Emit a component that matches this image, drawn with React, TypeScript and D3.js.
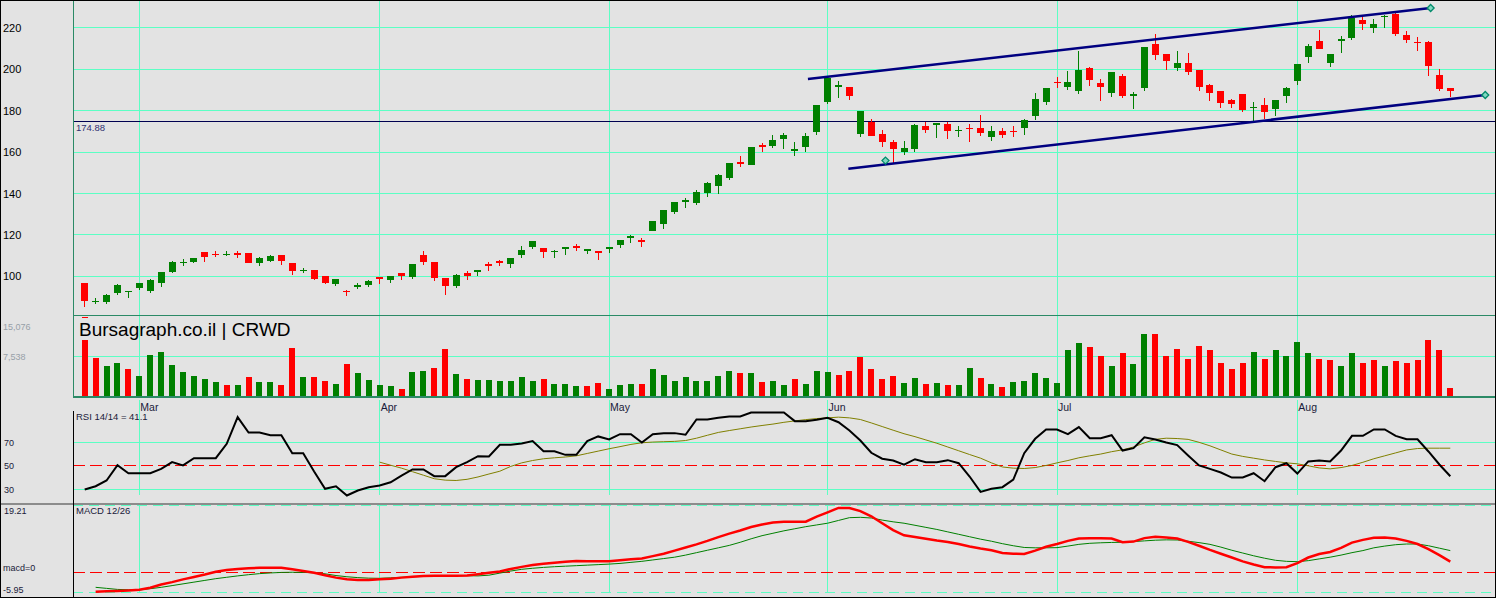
import * as d3 from "d3";

// candles, Feb .. Aug (one per trading day)
const opens = [96.7, 88, 87.5, 92.1, 92.6, 94.3, 92.7, 96.7, 102.1, 106.6, 106.9, 111.5, 110.9, 110.5, 111.1, 111.2, 106.3, 107.4, 110.2, 106.3,
  102.7, 102.9, 100, 96.1, 92.9, 95.3, 96, 99.7, 98.2, 101.5, 99.7, 110.2, 106.8, 99, 95.3, 101.5, 102.1, 105.8, 107.4, 106,
  110.3, 114.2, 113.6, 112, 113.6, 114.6, 112.8, 112.1, 113.6, 114.9, 119, 117.5, 122, 125.4, 131.2, 136.3, 135.6, 140.4, 143.8, 147.6,
  155.1, 153.8, 163.2, 163, 166.3, 161, 162.5, 169.9, 184.3, 191.9, 191.4, 168.9, 174.7, 168.7, 164.9, 160.2, 161.6, 172.6, 173.5, 173.6,
  170.5, 171.7, 171.6, 167.4, 170.2, 170.4, 171.8, 177.6, 184.3, 193.9, 191.6, 189.5, 200.6, 193.4, 188.7, 196.8, 187.5, 191, 212.2, 207.4,
  200.6, 203, 199.7, 192.4, 189.5, 185.2, 188.1, 181.4, 182.8, 181, 187.2, 194.5, 206.1, 213.7, 203.2, 214, 215.3, 223.8, 219.9, 225.5,
  226.7, 216.6, 213.4, 213.2, 197.2, 191];
const highs = [97, 89.5, 91.3, 96.1, 93, 96.8, 98.7, 102.1, 107.3, 108.3, 109, 111.7, 112.3, 112, 112.3, 111.2, 109.4, 110.3, 110.2, 106.3,
  104, 103, 100, 98.6, 93.5, 96.9, 98, 99.8, 100, 101.6, 106, 112.3, 106.8, 99, 101, 102.6, 103, 106.8, 108.1, 108.8,
  114.6, 117.2, 113.8, 112.6, 114, 115.5, 113.2, 112.1, 114, 117.4, 119.9, 118.3, 126.8, 132, 136, 137.8, 141.7, 145.6, 149.4, 154.8,
  158, 162.6, 164.4, 168.3, 169.2, 164.9, 169.2, 182.9, 196.2, 194.3, 191.5, 180, 175.8, 170.7, 165.8, 165.4, 173.5, 174.7, 173.9, 174.5,
  172.5, 173.4, 177.9, 172.5, 171.6, 172.5, 176.1, 188.6, 191.2, 196.3, 199.2, 208.8, 201.1, 195.3, 198.8, 197.7, 189, 211, 217.1, 207.5,
  208.8, 207.9, 199.8, 192.9, 189.6, 185.7, 188.2, 184.2, 186.1, 185.3, 191.5, 202.8, 212.2, 219, 207.5, 216.1, 226.2, 225.3, 224.3, 226,
  227, 218.5, 215.6, 213.7, 200.1, 191];
const lows = [85.4, 86.4, 86.7, 91.1, 89.7, 93.5, 91.9, 94.8, 101.8, 105, 106.5, 106.9, 109.1, 109.6, 108.6, 106.5, 105.2, 107, 105.5, 100.6,
  101.8, 98.1, 96.1, 95.3, 90.4, 94, 94.8, 96.3, 96.7, 98.2, 98.7, 105.5, 97.7, 90.8, 94.3, 98.2, 100.2, 102.6, 105, 104,
  108.9, 113.3, 108.9, 108.9, 110.3, 112.3, 110.8, 107.9, 111.2, 113.7, 116.2, 114.2, 121.8, 123, 130.2, 133.1, 134.6, 138.5, 139.9, 146.7,
  153, 153.7, 160.2, 162, 161.5, 158.1, 160, 168.4, 183.4, 186.3, 185.3, 167.4, 167.8, 162.6, 154.6, 158.7, 160.2, 169.4, 167, 166.5,
  167.4, 165, 167.8, 165.5, 167, 167.4, 168.4, 175.7, 182.9, 191.1, 190, 188.1, 191.9, 184.7, 186.8, 186.1, 180.8, 189.4, 204.5, 199.7,
  199.2, 197.2, 189.5, 184.7, 181.3, 181.5, 179.5, 174.7, 176.1, 177.4, 183.9, 192.6, 203.2, 210, 201.3, 208, 214.3, 219, 217.5, 219.9,
  216.1, 212.7, 208.8, 196.9, 189.5, 186.6];
const closes = [88, 88.3, 90.8, 95.6, 93, 96.6, 98.2, 101.9, 106.9, 107, 108.7, 109.4, 110.5, 110.8, 110.8, 106.5, 108.7, 109.6, 107.4, 102.6,
  103.1, 98.7, 96.7, 98.5, 92.6, 95.6, 97.7, 98.9, 100, 100.2, 105.8, 106.9, 99.2, 95.3, 100.8, 100.2, 102.9, 105, 106.5, 108.7,
  112.6, 117, 111.8, 112.4, 114, 114.2, 113.1, 111.8, 114, 117.3, 119.4, 117.1, 126.6, 131.9, 135.9, 136.7, 140.7, 145.1, 148.9, 154.7,
  154.7, 162.5, 162.8, 165.8, 168.3, 161.4, 167.8, 182.8, 195.7, 192.3, 187.2, 179.9, 167.9, 165, 161.6, 162, 173.1, 170.8, 173.9, 170.3,
  170.9, 171.3, 169.4, 170.2, 168.4, 170, 175.5, 185.7, 191, 193.5, 193.9, 199.7, 194.8, 191.6, 198.7, 187.2, 187.9, 210.8, 206.9, 204,
  203, 198.7, 191.6, 188.7, 183.7, 183.4, 180.5, 181.8, 179.5, 185.2, 191, 202.6, 211.3, 210, 207.4, 214.4, 224.8, 221.9, 221.9, 225.9,
  217.1, 214.2, 213, 201.7, 190.5, 189.7];

// volume in thousands, colour of each bar (g / r)
const volumes = [10.46, 7.2, 5.7, 6.25, 5.1, 3.77, 7.8, 8.36, 5.87, 4.53, 3.77, 3.2, 2.8, 2.24, 2.24, 3.58, 2.8, 2.8, 2.24, 9.1,
  3.58, 3.58, 3.0, 2.43, 6.06, 4.34, 3.04, 2.1, 1.9, 1.5, 4.56, 4.75, 5.3, 8.9, 4.2, 3.2, 3.04, 3.04, 2.85, 2.85,
  3.6, 2.85, 3.2, 2.3, 2.3, 1.9, 1.9, 2.5, 1.5, 2.1, 2.3, 2.3, 5.1, 4.05, 2.93, 3.68, 2.93, 2.93, 3.86, 4.8,
  4.42, 4.42, 2.74, 2.93, 2.18, 3.3, 2.37, 4.8, 4.6, 4.05, 4.8, 7.4, 5.17, 3.3, 3.86, 2.56, 3.49, 2.37, 2.56, 2.18,
  2.18, 5.36, 3.49, 2.37, 1.81, 2.74, 2.93, 4.42, 3.49, 2.56, 8.7, 10.0, 9.27, 7.6, 5.73, 8.15, 6.1, 11.7, 11.7, 7.6,
  8.9, 7.03, 9.46, 8.7, 6.29, 5.17, 6.29, 8.34, 7.03, 8.71, 7.59, 10.2, 8.15, 7.03, 6.85, 5.73, 8.15, 6.29, 6.85, 5.73,
  6.66, 6.29, 6.85, 10.58, 8.71, 1.62];
const volColors = ("rrggrggggg" + "gggrgrggrr" + "grrgrggggr" + "ggrrgrgggg" + "ggrgggrrgg" + "grgggggggg" +
  "rgrggrgggr" + "rrrrrggrgr" + "ggrgrggggg" + "ggrrgrggrr" + "rrrrrrrgrg" + "gggrrggrrg" + "rrrrrr").split("");
const volMax = 15.076;
const volTicks = [15.076, 7.538];
const volTickLabels = ["15,076", "7,538"];

// RSI 14 and its 14-day average
const rsi = [29.8, 32.6, 37.5, 50.5, 43.7, 43.7, 43.7, 47.4, 53.1, 50.3, 56.5, 56.5, 56.5, 68.7, 91.4, 78.3, 78.3, 76, 76, 60.7,
  60.7, 45.1, 30.4, 32.6, 24.7, 29, 31.8, 33.2, 36, 41.7, 46.9, 46.9, 41.2, 41.2, 48.8, 53.1, 58.2, 58, 67.9, 67.9,
  69, 71, 62.4, 62.4, 59.3, 59.3, 71, 75, 72.4, 76.9, 76.9, 69.8, 76.9, 77.8, 77.8, 76.4, 89.4, 89.4, 90.8, 92,
  92, 95.4, 95.4, 95.4, 95.4, 88, 88, 89.1, 90.8, 87.1, 80, 71.5, 61.1, 56, 54.5, 50.9, 55.6, 53.1, 53.1, 54.8,
  52.2, 40.9, 27.8, 30.4, 31.8, 38.3, 60.7, 73, 80.9, 80.9, 76.9, 82.9, 73.5, 73.5, 76, 63, 65, 74.3, 72.4, 69.8,
  67.6, 58.8, 50.3, 47.4, 44.3, 40, 40, 43.7, 36.9, 48.8, 52.2, 43.4, 53.7, 54.5, 53.7, 63, 75.5, 75.5, 80.9, 80.9,
  75.5, 72.6, 72.6, 62.2, 51.1, 41.1];
const rsiAvg = [null, null, null, null, null, null, null, null, null, null, null, null, null, null, null, null, null, null, null, null,
  null, null, null, null, null, null, null, 53.1, 50.5, 48, 45, 42, 39, 37.8, 37.5, 38.5, 40.5, 43, 45.4, 49.5,
  52.5, 54.5, 56, 56.8, 57.5, 58.5, 60.5, 62.5, 64.5, 66.3, 68.2, 69.6, 70.2, 70.5, 70.8, 71.5, 73.5, 76, 78.4, 80,
  81.5, 83, 84.3, 85.5, 87, 88.2, 89.3, 90.2, 90.8, 91.4, 90.8, 89.4, 86.5, 83.4, 80.3, 77.3, 74.8, 72, 69.2, 66,
  62.8, 59.6, 56.5, 52.5, 49, 48, 47.7, 48.5, 50.3, 52.5, 54.5, 56.8, 58.5, 60, 62, 63.6, 66, 69.5, 72.5, 73.5,
  73.2, 72.5, 70, 67, 63.5, 60, 58, 56.5, 55, 53.7, 52.5, 51.7, 50, 48.2, 47.4, 48.5, 50.3, 53, 56, 58.5,
  61, 63.5, 64.7, 65, 65, 65];

// MACD 12/26 and signal
const macd = [null, -5.65, -5.55, -5.45, -5.3, -5.1, -4.5, -3.6, -2.9, -2.1, -1.4, -0.7, 0.1, 0.6, 0.9, 1.1, 1.25, 1.27, 1.25, 0.8,
  0.3, -0.2, -0.9, -1.6, -2.1, -2.25, -2.25, -2.1, -1.9, -1.6, -1.35, -1.15, -1.05, -1.05, -1.05, -1.0, -0.6, -0.2, 0.15, 0.9,
  1.5, 2.05, 2.4, 2.7, 3.0, 3.2, 3.15, 3.1, 3.1, 3.4, 3.7, 3.9, 4.6, 5.3, 6.2, 7.1, 8.0, 9.0, 10.1, 11.1,
  12.0, 13.0, 13.7, 14.3, 14.5, 14.5, 14.55, 16.0, 17.25, 18.5, 18.5, 17.6, 16.1, 14.1, 12.1, 10.6, 10.1, 9.6, 9.1, 8.7,
  8.1, 7.4, 6.8, 6.3, 5.5, 5.3, 5.2, 6.2, 7.3, 8.1, 9.0, 9.7, 9.75, 9.75, 9.7, 8.6, 8.8, 9.8, 10.2, 10.0,
  9.7, 8.7, 7.6, 6.4, 5.3, 4.2, 3.1, 2.2, 1.4, 1.35, 1.4, 2.6, 4.2, 5.2, 5.8, 7.0, 8.5, 9.3, 9.9, 10.0,
  9.7, 9.0, 8.1, 6.6, 4.9, 3.0];
const macdSignal = [null, -4.4, -4.7, -5.0, -5.1, -5.15, -4.8, -4.4, -3.9, -3.4, -2.9, -2.4, -1.9, -1.5, -1.1, -0.75, -0.45, -0.25, -0.1, -0.05,
  -0.1, -0.2, -0.5, -1.0, -1.35, -1.6, -1.75, -1.8, -1.65, -1.5, -1.35, -1.25, -1.15, -1.1, -1.05, -1.05, -1.1, -0.9, -0.3, 0.3,
  0.8, 1.1, 1.35, 1.55, 1.7, 1.85, 2.0, 2.15, 2.3, 2.5, 2.8, 3.1, 3.5, 3.9, 4.3, 4.9, 5.6, 6.3, 7.0, 7.7,
  8.6, 9.6, 10.5, 11.2, 11.9, 12.5, 13.1, 13.6, 14.1, 14.9, 15.7, 15.8, 15.6, 15.0, 14.5, 14.1, 13.5, 12.9, 12.3, 11.6,
  10.9, 10.2, 9.5, 8.9, 8.2, 7.6, 7.1, 7.0, 7.0, 7.05, 7.5, 8.0, 8.3, 8.45, 8.55, 8.6, 8.8, 9.0, 9.2, 9.3,
  9.26, 8.9, 8.5, 8.0, 7.2, 6.3, 5.5, 4.7, 4.0, 3.4, 3.1, 3.0, 3.3, 3.8, 4.3, 4.9, 5.6, 6.2, 7.0, 7.5,
  7.9, 8.1, 8.1, 7.6, 6.9, 6.2];

// months: label and the candle index where each starts
const months = ["Mar", "Apr", "May", "Jun", "Jul", "Aug"];
const monthIdx = [5, 27, 48, 68, 89, 111];

const priceTicks = [100, 120, 140, 160, 180, 200, 220];
const rsiTicks = [30, 50, 70];
const lastLine = 174.88;

// trend channel, [candle index, price]
const upperChannel = [[66.2, 195.3], [123.2, 229.6]];
const lowerChannel = [[69.9, 152], [128.2, 187.6]];
const channelMarks = [[123.2, 229.6], [73.3, 155.9], [128.2, 187.6]];

const W = 1496;
const H = 598;
const plotL = 73;
const plotR = 1495;

const GRID = "#5cffc4";
const FRAME = "#2b8a66";
const UP = "#008000";
const DOWN = "#ff0000";
const FONT = "'Liberation Sans', Arial, sans-serif";

// snap a coordinate to the middle of a pixel so 1px lines stay crisp
const px = (v: number) => Math.round(v - 0.5) + 0.5;

export default function App() {
  const n = closes.length;
  const x = d3.scaleLinear([0, n - 1], [84.7, 1450.3]);
  const y = d3.scaleLinear([100, 200], [276.3, 69.3]);
  const yVol = d3.scaleLinear([0, volMax], [396.7, 315.3]);
  const yRsi = d3.scaleLinear([30, 70], [489.3, 442.3]);
  const yMacd = d3.scaleLinear([-5.95, 19.21], [592.7, 505.5]);

  const bodyW = 7;
  const volW = 6;

  const rsiLine = d3.line<number | null>()
    .defined(d => d != null)
    .x((_, i) => x(i))
    .y(d => yRsi(d as number));
  const macdLine = d3.line<number | null>()
    .defined(d => d != null)
    .x((_, i) => x(i))
    .y(d => yMacd(d as number));
  const chan = d3.line<number[]>()
    .x(d => x(d[0]))
    .y(d => y(d[1]));

  return (
    <svg width={W} height={H} style={{ position: "absolute", left: 0, top: 0, fontFamily: FONT }}>
      <defs>
        <clipPath id="priceClip"><rect x={plotL} y={0} width={plotR - plotL} height={315} /></clipPath>
        <clipPath id="rsiClip"><rect x={plotL} y={410} width={plotR - plotL} height={92} /></clipPath>
        <clipPath id="macdClip"><rect x={plotL} y={505} width={plotR - plotL} height={92} /></clipPath>
      </defs>
      <rect width={W} height={H} fill="#e3e3e3" />

      {/* price grid */}
      <g shapeRendering="crispEdges">
        {priceTicks.map(t => (
          <line key={t} x1={plotL} x2={plotR} y1={px(y(t))} y2={px(y(t))} stroke={GRID} strokeWidth={1} />
        ))}
        <line x1={plotL} x2={plotR} y1={px(yVol(7.538))} y2={px(yVol(7.538))} stroke={GRID} />
        {monthIdx.map((m, i) => (
          <g key={months[i]}>
            <line x1={px(x(m))} x2={px(x(m))} y1={0} y2={397} stroke={GRID} />
            <line x1={px(x(m))} x2={px(x(m))} y1={400} y2={495} stroke={GRID} />
            <line x1={px(x(m))} x2={px(x(m))} y1={506} y2={593} stroke={GRID} />
          </g>
        ))}
      </g>
      {priceTicks.map(t => (
        <text key={t} x={3} y={y(t) + 4} fontSize={11} fill="#000">{t}</text>
      ))}
      {monthIdx.map((m, i) => (
        <text key={months[i]} x={x(m) + 1} y={410.5} fontSize={10.5} fill="#1a1a3a">{months[i]}</text>
      ))}

      {/* last close reference */}
      <line x1={plotL} x2={plotR} y1={px(y(lastLine))} y2={px(y(lastLine))} stroke="#000050" shapeRendering="crispEdges" />
      <text x={76} y={y(lastLine) + 10} fontSize={9.5} fill="#303070">{lastLine.toFixed(2)}</text>

      {/* candles */}
      <g clipPath="url(#priceClip)">
        <g shapeRendering="crispEdges">
          {closes.map((c, i) => {
            const o = opens[i];
            const col = c >= o ? UP : DOWN;
            const top = y(Math.max(o, c));
            const h = Math.max(1.5, Math.abs(y(o) - y(c)));
            return (
              <g key={i}>
                <line x1={px(x(i))} x2={px(x(i))} y1={y(highs[i])} y2={y(lows[i])} stroke={col} strokeWidth={1} />
                <rect x={Math.round(x(i) - bodyW / 2)} y={top} width={bodyW} height={h} fill={col} />
              </g>
            );
          })}
        </g>
        <path d={chan(upperChannel) || ""} fill="none" stroke="#000080" strokeWidth={2.5} />
        <path d={chan(lowerChannel) || ""} fill="none" stroke="#000080" strokeWidth={2.5} />
        {channelMarks.map((p, i) => (
          <path key={i} d={`M${x(p[0])},${y(p[1]) - 3.5}l3.5,3.5l-3.5,3.5l-3.5,-3.5z`}
            fill="#7fd8c0" stroke="#008a6a" strokeWidth={1.3} />
        ))}
      </g>

      {/* volume */}
      <g shapeRendering="crispEdges">
        {volumes.map((v, i) => (
          <rect key={i} x={Math.round(x(i) - volW / 2)} y={yVol(v)} width={volW} height={yVol(0) - yVol(v)}
            fill={volColors[i] === "g" ? UP : DOWN} />
        ))}
        <rect x={Math.round(x(0) - volW / 2)} y={yVol(volMax) + 1.5} width={volW} height={1.6} fill={DOWN} />
      </g>
      {volTicks.map((t, i) => (
        <text key={t} x={3} y={yVol(t) + (i === 0 ? 15 : 4)} fontSize={9} fill="#97a0a8">{volTickLabels[i]}</text>
      ))}
      <text x={79} y={336} fontSize={19} fill="#000">Bursagraph.co.il | CRWD</text>

      {/* panel frames */}
      <g shapeRendering="crispEdges">
        <line x1={plotL} x2={plotR} y1={315.5} y2={315.5} stroke={FRAME} />
        <line x1={plotL} x2={plotR} y1={397} y2={397} stroke={FRAME} strokeWidth={2} />
        <line x1={plotL + 0.5} x2={plotL + 0.5} y1={0} y2={397} stroke={FRAME} />
      </g>

      {/* RSI */}
      {rsiTicks.map(t => (
        <g key={t}>
          <line x1={plotL} x2={plotR} y1={px(yRsi(t))} y2={px(yRsi(t))} shapeRendering="crispEdges"
            stroke={t === 50 ? DOWN : GRID} strokeDasharray={t === 50 ? "12,5" : undefined} />
          <text x={4} y={yRsi(t) + 3.5} fontSize={9} fill="#1a1a3a">{t}</text>
        </g>
      ))}
      <g clipPath="url(#rsiClip)">
        <path d={rsiLine(rsiAvg) || ""} fill="none" stroke="#808000" strokeWidth={1} />
        <path d={rsiLine(rsi) || ""} fill="none" stroke="#000" strokeWidth={2} />
      </g>
      <text x={76} y={420} fontSize={9.5} fill="#1a1a3a">RSI 14/14 = {rsi[n - 1]}</text>

      {/* MACD */}
      <g shapeRendering="crispEdges">
        <line x1={0} x2={W} y1={503.5} y2={503.5} stroke="#8c8c8c" strokeWidth={2} />
        <line x1={plotL} x2={plotR} y1={px(yMacd(19.21))} y2={px(yMacd(19.21))} stroke={GRID} strokeDasharray="10,6" />
        <line x1={plotL} x2={plotR} y1={px(yMacd(-5.95))} y2={px(yMacd(-5.95))} stroke={GRID} strokeDasharray="10,6" />
        <line x1={plotL} x2={plotR} y1={px(yMacd(0))} y2={px(yMacd(0))} stroke={DOWN} strokeDasharray="12,5" />
      </g>
      <g clipPath="url(#macdClip)">
        <path d={macdLine(macdSignal) || ""} fill="none" stroke={UP} strokeWidth={1} />
        <path d={macdLine(macd) || ""} fill="none" stroke={DOWN} strokeWidth={2.5} />
      </g>
      <text x={76} y={513.5} fontSize={9.5} fill="#1a1a3a">MACD 12/26</text>
      <text x={4} y={513.5} fontSize={9} fill="#1a1a3a">19.21</text>
      <text x={3} y={571} fontSize={9} fill="#1a1a3a">macd=0</text>
      <text x={3} y={593} fontSize={9} fill="#1a1a3a">-5.95</text>

      <g shapeRendering="crispEdges">
        <line x1={plotL + 0.5} x2={plotL + 0.5} y1={411} y2={H} stroke="#000" />
        <rect x={0.5} y={0.5} width={W - 1} height={H - 1} fill="none" stroke="#000" />
      </g>
    </svg>
  );
}
